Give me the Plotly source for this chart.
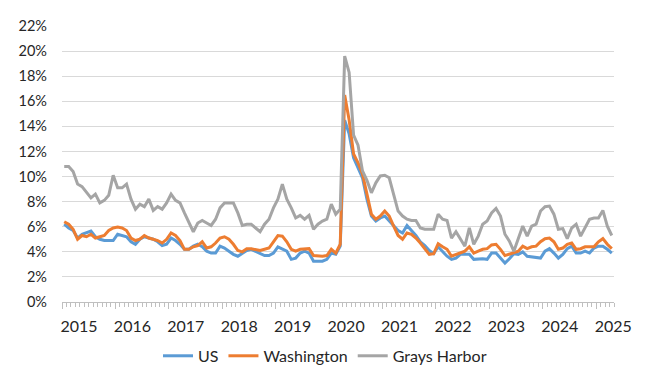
import pandas as pd
import plotly.graph_objects as go

months = pd.date_range("2015-01-01", periods=124, freq="MS")
year_labels = ["2015", "2016", "2017", "2018", "2019", "2020", "2021", "2022", "2023", "2024", "2025"]

us = [6.2, 5.9, 5.7, 5.1, 5.4, 5.5, 5.65, 5.2, 5.0, 4.9, 4.9, 4.9,
      5.4, 5.3, 5.2, 4.8, 4.6, 5.0, 5.2, 5.1, 5.0, 4.8, 4.5, 4.6,
      5.1, 4.9, 4.6, 4.2, 4.2, 4.45, 4.6, 4.4, 4.05, 3.9, 3.9, 4.45,
      4.3, 4.05, 3.8, 3.65, 3.85, 4.1, 4.2, 4.05, 3.85, 3.7, 3.7, 3.9,
      4.4, 4.2, 4.05, 3.4, 3.5, 3.9, 4.05, 3.9, 3.25, 3.25, 3.25, 3.4,
      3.9, 3.8, 4.45, 14.5, 13.4, 11.5, 10.7, 9.9, 8.2, 6.85, 6.45, 6.7,
      6.85, 6.45, 6.1, 5.7, 5.5, 6.1, 5.7, 5.3, 4.8, 4.5, 4.1, 3.85,
      4.4, 4.05, 3.65, 3.4, 3.5, 3.8, 3.8, 3.8, 3.4, 3.45, 3.45, 3.4,
      3.9, 3.9, 3.5, 3.1, 3.45, 3.85, 3.8, 4.0, 3.65, 3.6, 3.5, 3.5,
      4.05, 4.25, 3.9, 3.5, 3.8, 4.25, 4.45, 3.9, 3.9, 4.05, 3.9, 4.3,
      4.45, 4.45, 4.2, 3.9]

washington = [6.4, 6.2, 5.8, 5.0, 5.3, 5.2, 5.4, 5.1, 5.2, 5.3, 5.7, 5.9,
              5.97, 5.9, 5.7, 5.1, 4.9, 5.0, 5.3, 5.1, 5.0, 4.9, 4.7, 5.0,
              5.5, 5.3, 4.9, 4.2, 4.2, 4.4, 4.5, 4.8, 4.3, 4.4, 4.7, 5.1,
              5.2, 5.0, 4.6, 4.1, 4.0, 4.25, 4.25, 4.2, 4.1, 4.2, 4.3, 4.8,
              5.3, 5.25, 4.8, 4.2, 4.05, 4.2, 4.25, 4.25, 3.7, 3.65, 3.65, 3.7,
              4.2, 3.9, 4.6, 16.5, 14.5, 11.8, 11.1, 10.2, 8.45, 7.0, 6.6, 6.85,
              7.25, 6.85, 6.05, 5.3, 5.0, 5.5, 5.4, 5.1, 4.7, 4.2, 3.8, 3.85,
              4.65, 4.4, 4.2, 3.65, 3.8, 3.9, 4.05, 4.4, 3.9, 4.05, 4.2, 4.25,
              4.55, 4.6, 4.2, 3.7, 3.8, 3.9, 4.05, 4.45, 4.25, 4.4, 4.45, 4.8,
              5.05, 5.1, 4.8, 4.2, 4.3, 4.6, 4.7, 4.2, 4.25, 4.4, 4.4, 4.4,
              4.8, 5.05, 4.6, 4.25]

grays_harbor = [10.8, 10.8, 10.4, 9.4, 9.2, 8.7, 8.3, 8.6, 7.9, 8.1, 8.5, 10.1,
                9.1, 9.1, 9.4, 8.2, 7.4, 7.8, 7.6, 8.2, 7.3, 7.6, 7.4, 7.9,
                8.6, 8.1, 7.9, 7.1, 6.3, 5.6, 6.3, 6.5, 6.3, 6.1, 6.6, 7.5,
                7.9, 7.9, 7.9, 7.1, 6.1, 6.2, 6.2, 5.9, 5.6, 6.2, 6.6, 7.5,
                8.2, 9.4, 8.2, 7.5, 6.7, 6.9, 6.6, 6.9, 5.8, 6.2, 6.45, 6.6,
                7.8, 7.0, 7.4, 19.6, 18.3, 13.3, 12.5, 10.45, 9.7, 8.7, 9.5, 10.05,
                10.1, 9.9, 8.6, 7.25, 6.85, 6.6, 6.5, 6.5, 5.9, 5.8, 5.8, 5.8,
                7.0, 6.6, 6.5, 5.1, 5.6, 5.0, 4.45, 5.9, 4.6, 5.25, 6.2, 6.45,
                7.1, 7.45, 6.85, 5.4, 4.85, 4.05, 5.1, 6.05, 5.25, 6.05, 6.2, 7.25,
                7.6, 7.65, 7.0, 5.8, 5.85, 5.05, 5.9, 6.2, 5.25, 5.9, 6.6, 6.7,
                6.7, 7.3, 6.05, 5.3]

series_names = ["US", "Washington", "Grays Harbor"]
series_colors = ["#5B9BD5", "#ED7D31", "#A5A5A5"]

xpos = list(range(len(months)))
jan_bounds = [i - 0.5 for i, m in enumerate(months) if m.month == 1]
xrange_ = [-0.5, len(months) - 0.5]

FONT = "Lato, 'Open Sans', sans-serif"
TXT = "#262626"
AX = "#BFBFBF"

fig = go.Figure()
for name, vals, col in zip(series_names, [us, washington, grays_harbor], series_colors):
    fig.add_trace(go.Scatter(x=xpos, y=[v / 100 for v in vals], mode="lines", name=name,
                             line=dict(color=col, width=3), hoverinfo="skip"))

fig.update_layout(
    width=650, height=379,
    margin=dict(l=62, r=36, t=26, b=77, autoexpand=False),
    paper_bgcolor="white", plot_bgcolor="white",
    font=dict(family=FONT, color=TXT, size=16),
    showlegend=True,
    legend=dict(orientation="h", x=0.5, xref="container", xanchor="center",
                y=0.061, yref="container", yanchor="middle",
                font=dict(size=16, color=TXT), itemwidth=30, tracegroupgap=0),
    xaxis=dict(range=xrange_, tickmode="array", tickvals=jan_bounds, ticktext=year_labels,
               ticklabelshift=17, ticklabelstandoff=4, ticks="outside", ticklen=6, tickcolor=AX, tickwidth=1,
               minor=dict(ticks="outside", ticklen=4, tickmode="linear", tick0=-0.5, dtick=1,
                          tickcolor=AX, tickwidth=1, showgrid=False),
               showline=True, linecolor=AX, linewidth=1, showgrid=False, zeroline=False,
               tickfont=dict(size=16, color=TXT), fixedrange=True),
    xaxis2=dict(range=xrange_, overlaying="x", anchor="y", side="bottom", tickmode="array",
                tickvals=jan_bounds, ticks="inside", ticklen=5, tickcolor=AX, tickwidth=1,
                showticklabels=False, showline=False, showgrid=False, zeroline=False),
    yaxis=dict(range=[0, 0.22], dtick=0.02, tickformat=".0%", showgrid=True, gridcolor="#D9D9D9",
               gridwidth=1, zeroline=False, showline=False, ticks="", ticklabelstandoff=14,
               tickfont=dict(size=14.5, color=TXT), fixedrange=True),
)

fig.write_html("out.html", config={"displayModeBar": False},
               post_script="document.body.style.margin='0px';")
